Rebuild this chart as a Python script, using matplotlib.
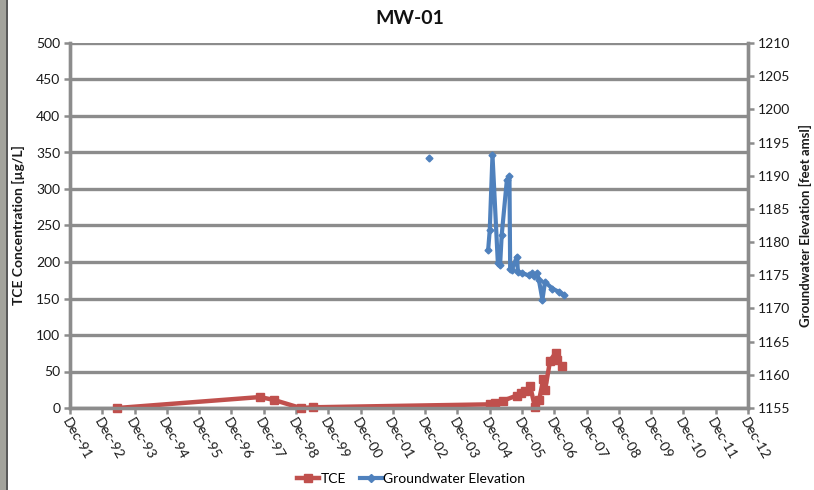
import matplotlib
matplotlib.use("Agg")
import matplotlib.pyplot as plt
from matplotlib.lines import Line2D
from matplotlib.patches import Rectangle
import numpy as np
import pandas as pd

# TCE sampling results [ug/L]
tce_dates = [
    "1993-05-20", "1997-10-20", "1998-03-28", "1999-01-22", "1999-06-13",
    "2004-12-05", "2005-01-30", "2005-05-01", "2005-10-01", "2005-11-25",
    "2006-01-01", "2006-03-03", "2006-04-27", "2006-06-13", "2006-07-31",
    "2006-08-18", "2006-10-15", "2006-12-20", "2007-01-04", "2007-02-21",
]
tce_values = [0, 15, 11, 0, 1, 5, 7, 10, 17, 20, 23, 30, 1, 11, 40, 24, 65, 76, 66, 58]

# groundwater elevation [feet amsl]; None leaves a gap in the line
gw_dates = [
    "2003-01-15", "2004-01-01", "2004-11-13", "2004-12-01", "2005-01-01",
    "2005-03-03", "2005-03-28", "2005-04-15", "2005-06-13", "2005-07-12",
    "2005-07-20", "2005-08-07", "2005-10-05", "2005-10-16", "2005-12-03",
    "2006-02-14", "2006-03-26", "2006-04-13", "2006-05-19", "2006-06-10",
    "2006-07-20", "2006-08-18", "2006-11-10", "2007-01-22", "2007-03-21",
]
gw_values = [
    1192.7, None, 1178.8, 1181.8, 1193.1, 1176.8, 1176.5, 1181.0, 1189.4, 1189.9,
    1176.0, 1175.8, 1177.8, 1175.5, 1175.3, 1175.0, 1175.3, 1174.9, 1175.3, 1174.3,
    1171.3, 1174.0, 1173.0, 1172.5, 1172.0,
]

tick_years = list(range(1991, 2013))
tick_labels = [f"Dec-{y % 100:02d}" for y in tick_years]

RED = "#C0504D"
BLUE = "#4F81BD"
GRID = "#8C8C8C"
TEXT = "#1a1a1a"

plt.rcParams["font.family"] = ["Lato", "DejaVu Sans"]

fig = plt.figure(figsize=(8.14, 4.9), dpi=100)
fig.patch.set_facecolor("white")
ax = fig.add_axes([70 / 814, 82 / 490, 678 / 814, 365 / 490])
ax2 = ax.twinx()

tce_x = pd.to_datetime(tce_dates)
gw_x = pd.to_datetime(gw_dates)
gw_y = np.array([np.nan if v is None else v for v in gw_values], dtype=float)

ax.plot(tce_x, tce_values, color=RED, linewidth=3.2, marker="s", markersize=5.5,
        zorder=3, clip_on=False)
ax2.plot(gw_x, gw_y, color=BLUE, linewidth=3.0, marker="D", markersize=3.5,
         zorder=3)

ticks = [pd.Timestamp(f"{y}-12-01") for y in tick_years]
ax.set_xlim(ticks[0], ticks[-1])
ax.set_xticks(ticks)
ax.set_xticklabels(tick_labels, rotation=-60, ha="left", va="top",
                   rotation_mode="anchor", fontsize=10)

ax.set_ylim(0, 500)
ax.set_yticks(range(0, 501, 50))
ax2.set_ylim(1155, 1210)
ax2.set_yticks(range(1155, 1211, 5))

ax.grid(axis="y", color=GRID, linewidth=2.4, zorder=0)
ax.set_axisbelow(True)

for a in (ax, ax2):
    a.spines["top"].set_visible(False)
    for side in ("left", "right", "bottom"):
        a.spines[side].set_color(GRID)
        a.spines[side].set_linewidth(2.4)
    a.tick_params(axis="both", colors=GRID, width=1.8, length=4,
                  labelsize=10, labelcolor=TEXT)
    a.set_facecolor("none")

ax.tick_params(axis="x", pad=2)
ax.tick_params(axis="y", pad=3)
ax2.tick_params(axis="y", pad=3)

ax.set_ylabel("TCE Concentration [µg/L]", fontsize=10, fontweight="bold",
              color=TEXT, labelpad=8)
ax2.set_ylabel("Groundwater Elevation [feet amsl]", fontsize=9.5,
               fontweight="bold", color=TEXT, labelpad=6)
fig.text(0.503, 0.963, "MW-01", ha="center", va="center", fontsize=14,
         fontweight="bold", color="#111111")

handles = [
    Line2D([], [], color=RED, linewidth=3.2, marker="s", markersize=5.5),
    Line2D([], [], color=BLUE, linewidth=3.0, marker="D", markersize=4),
]
fig.legend(handles, ["TCE", "Groundwater Elevation"], loc="center",
           bbox_to_anchor=(0.505, 0.022), ncol=2, frameon=False, fontsize=10,
           handlelength=1.6, handletextpad=0.1, columnspacing=1.0)

# textured backdrop edge on the left
fig.add_artist(Rectangle((0, 0), 6 / 814, 1, transform=fig.transFigure,
                         facecolor="#a3a39c", edgecolor="none"))
fig.add_artist(Line2D([6.5 / 814, 6.5 / 814], [0, 1], transform=fig.transFigure,
                      color="#3a3a3a", linewidth=1.2))

fig.savefig("out.png", dpi=100, facecolor=fig.get_facecolor())
